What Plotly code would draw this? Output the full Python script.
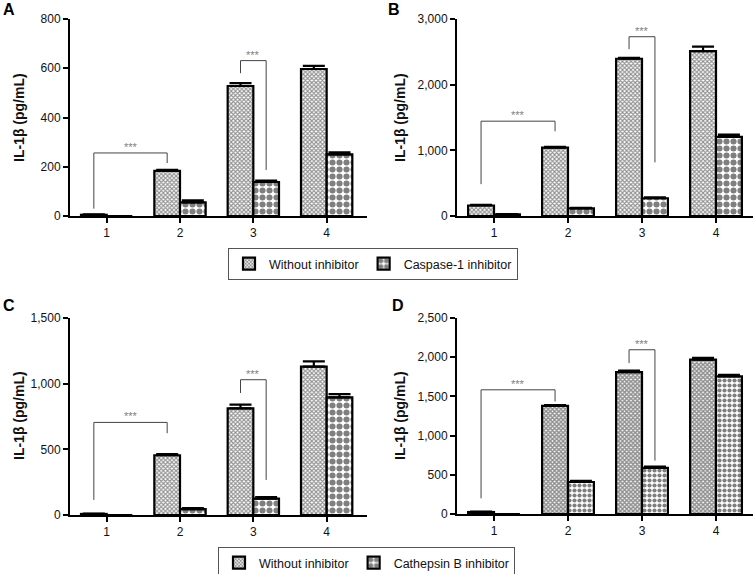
import plotly.graph_objects as go

groups = [1, 2, 3, 4]
tick_labels = ["1", "2", "3", "4"]

a_without = [5, 183, 528, 597]
a_without_err = [2, 4, 12, 13]
a_caspase = [0, 55, 138, 250]
a_caspase_err = [0, 9, 6, 8]

b_without = [160, 1040, 2395, 2510]
b_without_err = [8, 12, 12, 70]
b_caspase = [25, 115, 270, 1205]
b_caspase_err = [4, 10, 15, 35]

c_without = [8, 455, 812, 1130]
c_without_err = [3, 8, 28, 40]
c_cathepsin = [0, 45, 125, 895]
c_cathepsin_err = [0, 8, 12, 25]

d_without = [25, 1380, 1810, 1968]
d_without_err = [5, 10, 20, 25]
d_cathepsin = [0, 408, 588, 1755]
d_cathepsin_err = [0, 15, 15, 20]

# brackets: (group_left, series_left, group_right, series_right, top, left_leg_bottom, right_leg_bottom)
a_brackets = [(1, 0, 2, 0, 256, 30, 215), (3, 0, 3, 1, 631, 580, 187)]
b_brackets = [(1, 0, 2, 0, 1444, 485, 1290), (3, 0, 3, 1, 2730, 2540, 816)]
c_brackets = [(1, 0, 2, 0, 705, 115, 623), (3, 0, 3, 1, 1030, 929, 267)]
d_brackets = [(1, 0, 2, 0, 1584, 200, 1435), (3, 0, 3, 1, 2095, 1925, 681)]

y_ranges = {"A": [0, 800], "B": [0, 3000], "C": [0, 1500], "D": [0, 2500]}
y_ticks = {"A": [0, 200, 400, 600, 800], "B": [0, 1000, 2000, 3000],
           "C": [0, 500, 1000, 1500], "D": [0, 500, 1000, 1500, 2000, 2500]}

W, H = 753, 574
FONT = "Liberation Sans, Arial, sans-serif"

fine = dict(shape="x", size=3, solidity=0.6, fgcolor="#222", bgcolor="white")
dark_fine = dict(shape="x", size=3, solidity=0.75, fgcolor="#222", bgcolor="white")
coarse = dict(shape=".", size=7, solidity=0.6, fgcolor="black", bgcolor="white")
medium = dict(shape=".", size=5, solidity=0.55, fgcolor="black", bgcolor="white")

fig = go.Figure()

panels = [
    ("A", "x", "y", a_without, a_without_err, a_caspase, a_caspase_err, a_brackets,
     fine, coarse, "Caspase-1 inhibitor", "legend", True),
    ("B", "x2", "y2", b_without, b_without_err, b_caspase, b_caspase_err, b_brackets,
     fine, coarse, "Caspase-1 inhibitor", "legend", False),
    ("C", "x3", "y3", c_without, c_without_err, c_cathepsin, c_cathepsin_err, c_brackets,
     fine, coarse, "Cathepsin B inhibitor", "legend2", True),
    ("D", "x4", "y4", d_without, d_without_err, d_cathepsin, d_cathepsin_err, d_brackets,
     dark_fine, medium, "Cathepsin B inhibitor", "legend2", False),
]

OFF = 0.175
for (name, xa, ya, wv, we, iv, ie, brs, p1, p2, iname, leg, show) in panels:
    for vals, errs, pat, label in [(wv, we, p1, "Without inhibitor"), (iv, ie, p2, iname)]:
        fig.add_trace(go.Bar(
            x=groups, y=vals, name=label, xaxis=xa, yaxis=ya,
            legend=leg, showlegend=show, offsetgroup=label[:7],
            marker=dict(color="white", pattern=pat, line=dict(color="black", width=2.2)),
            error_y=dict(type="data", array=errs, arrayminus=[0] * len(errs), symmetric=False,
                         color="black", thickness=2.2, width=11),
        ))
    for (g1, s1, g2, s2, top, lb, rb) in brs:
        x1 = g1 + (OFF if s1 else -OFF)
        x2 = g2 + (OFF if s2 else -OFF)
        fig.add_shape(type="path", path=f"M {x1},{lb} L {x1},{top} L {x2},{top} L {x2},{rb}",
                      xref=xa, yref=ya, line=dict(color="#444", width=1))
        fig.add_annotation(x=(x1 + x2) / 2, y=top, xref=xa, yref=ya, text="***",
                           showarrow=False, yanchor="bottom", yshift=-2,
                           font=dict(size=11, color="#808080", family=FONT))

def px_x(x):
    return x / W

def px_y(y):
    return 1 - y / H

def dx(a, b):
    return [px_x(a), min(px_x(b), 1.0)]

def dy(top, bottom):
    return [px_y(bottom), px_y(top)]

axis_common = dict(showline=True, linecolor="black", linewidth=2, ticks="outside",
                   ticklen=5, tickwidth=2, tickcolor="black", showgrid=False, zeroline=False,
                   automargin=False,
                   tickfont=dict(size=12, family=FONT, color="#111"))

layout_axes = {
    "xaxis": dict(domain=dx(70, 367), range=[0.5, 4.55], anchor="y"),
    "yaxis": dict(domain=dy(19, 216), range=y_ranges["A"], tickvals=y_ticks["A"], anchor="x"),
    "xaxis2": dict(domain=dx(457, 753), range=[0.5, 4.5], anchor="y2"),
    "yaxis2": dict(domain=dy(19, 216), range=y_ranges["B"], tickvals=y_ticks["B"], anchor="x2"),
    "xaxis3": dict(domain=dx(70, 367), range=[0.5, 4.55], anchor="y3"),
    "yaxis3": dict(domain=dy(318, 515), range=y_ranges["C"], tickvals=y_ticks["C"], anchor="x3"),
    "xaxis4": dict(domain=dx(457, 753), range=[0.5, 4.5], anchor="y4"),
    "yaxis4": dict(domain=dy(318, 514), range=y_ranges["D"], tickvals=y_ticks["D"], anchor="x4"),
}
for k, v in layout_axes.items():
    v.update(axis_common)
    if k.startswith("x"):
        v.update(tickvals=groups, ticktext=tick_labels)
    else:
        v.update(tickformat=",d")
    fig.layout[k] = v

for (lx, ly, txt) in [(9, 10, "A"), (394, 10, "B"), (9, 306, "C"), (398, 306, "D")]:
    fig.add_annotation(x=px_x(lx), y=px_y(ly), xref="paper", yref="paper", text=f"<b>{txt}</b>",
                       showarrow=False, xanchor="center", yanchor="middle",
                       font=dict(size=16, family=FONT, color="black"))
for (tx, ty) in [(19, 118), (400, 118), (19, 416), (400, 416)]:
    fig.add_annotation(x=px_x(tx), y=px_y(ty), xref="paper", yref="paper",
                       text="<b>IL-1β (pg/mL)</b>", textangle=-90, showarrow=False,
                       xanchor="center", yanchor="middle",
                       font=dict(size=14, family=FONT, color="#111"))

legend_common = dict(orientation="h", bordercolor="#555", borderwidth=1, bgcolor="white",
                     font=dict(size=12.5, family=FONT, color="#111"), xanchor="left", yanchor="top",
                     itemwidth=30, tracegroupgap=0)

fig.update_layout(
    width=W, height=H, margin=dict(l=0, r=0, t=0, b=0, autoexpand=False),
    paper_bgcolor="white", plot_bgcolor="white",
    barmode="group", bargap=0.3, bargroupgap=0,
    legend=dict(x=px_x(228), y=px_y(248), **legend_common),
    legend2=dict(x=px_x(218), y=px_y(547), **legend_common),
)

fig.write_html("out.html", config={"displayModeBar": False},
               post_script="document.body.style.margin='0';")
